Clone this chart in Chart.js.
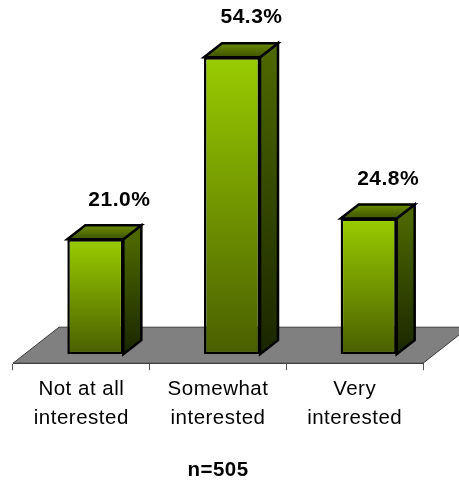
<!DOCTYPE html>
<html><head><meta charset="utf-8">
<style>html,body{margin:0;padding:0;background:#fff}#w{width:459px;height:481px;position:relative}</style>
<script src="https://cdn.jsdelivr.net/npm/chart.js@4"></script>
</head><body><div id="w"><canvas id="c"></canvas></div>
<script>
const categories = [["Not at all","interested"],["Somewhat","interested"],["Very","interested"]];
const percentValues = [21.0, 54.3, 24.8];
const valueLabels = ["21.0%","54.3%","24.8%"];
const sampleNote = "n=505";
const FONT = "'Liberation Sans', Arial, sans-serif";
const SHIFT = {x:14, y:-9}, DEPTH = {x:18, y:-14}, FLOOR = {x:46, y:-36};
const LABEL_DX = [38, 33.5, 33.5];

function grad(ctx, y0, y1, c0, c1){
  const g = ctx.createLinearGradient(0,y0,0,y1);
  g.addColorStop(0,c0); g.addColorStop(1,c1); return g;
}
const box3d = {
  id:'box3d',
  beforeDraw(chart){ chart.ctx.letterSpacing='0.5px'; },
  beforeDatasetsDraw(chart){
    const {ctx, chartArea:a} = chart;
    ctx.save();
    ctx.beginPath();
    ctx.moveTo(a.left,a.bottom);
    ctx.lineTo(a.right,a.bottom);
    ctx.lineTo(a.right+FLOOR.x,a.bottom+FLOOR.y);
    ctx.lineTo(a.left+FLOOR.x,a.bottom+FLOOR.y);
    ctx.closePath();
    ctx.fillStyle='#808080'; ctx.fill();
    ctx.strokeStyle='#3a3a3a'; ctx.lineWidth=1; ctx.stroke();
    ctx.restore();
    ctx.save();
    ctx.translate(SHIFT.x,SHIFT.y);
    ctx.lineWidth=2.5; ctx.strokeStyle='#000'; ctx.lineJoin='miter';
    chart.getDatasetMeta(0).data.forEach(b=>{
      const w=b.width/2, l=b.x-w, r=b.x+w, t=b.y, bt=b.base;
      ctx.beginPath();
      ctx.moveTo(r,t); ctx.lineTo(r+DEPTH.x,t+DEPTH.y); ctx.lineTo(r+DEPTH.x,bt+DEPTH.y); ctx.lineTo(r,bt); ctx.closePath();
      ctx.fillStyle=grad(ctx,t,bt,'#4d6600','#1a2600'); ctx.fill(); ctx.stroke();
      ctx.beginPath();
      ctx.moveTo(l,t); ctx.lineTo(l+DEPTH.x,t+DEPTH.y); ctx.lineTo(r+DEPTH.x,t+DEPTH.y); ctx.lineTo(r,t); ctx.closePath();
      ctx.fillStyle=grad(ctx,t+DEPTH.y,t,'#6b8c00','#3f5200'); ctx.fill(); ctx.stroke();
    });
  },
  afterDatasetsDraw(chart){
    const {ctx} = chart;
    ctx.restore();
    ctx.save();
    ctx.font="bold 21px "+FONT; ctx.fillStyle='#000';
    ctx.textAlign='center'; ctx.textBaseline='middle';
    chart.getDatasetMeta(0).data.forEach((b,i)=>{
      ctx.fillText(valueLabels[i], b.x+LABEL_DX[i], b.y-48.5);
    });
    ctx.restore();
  }
};
new Chart(document.getElementById('c'),{
  type:'bar',
  data:{labels:categories,datasets:[{
    data:percentValues,
    backgroundColor(c){
      const chart=c.chart;
      if(!chart.chartArea||c.parsed==null) return '#99cc00';
      const y=chart.scales.y;
      return grad(chart.ctx,y.getPixelForValue(c.raw),y.getPixelForValue(0),'#99cc00','#4a5f00');
    },
    borderColor:'#000',borderWidth:2.5,borderSkipped:false,
    barPercentage:0.41,categoryPercentage:1
  }]},
  options:{
    responsive:true,maintainAspectRatio:false,animation:false,
    layout:{padding:{left:13,right:36,top:35,bottom:0}},
    plugins:{legend:{display:false},tooltip:{enabled:false}},
    scales:{
      y:{display:false,min:0,max:60},
      x:{
        grid:{offset:true,drawOnChartArea:false,drawTicks:true,tickLength:7,color:'#555',lineWidth:1},
        border:{display:true,color:'#3a3a3a',width:1},
        ticks:{color:'#000',font:{family:FONT,size:20.5,lineHeight:1.41},maxRotation:0,autoSkip:false,padding:5},
        title:{display:true,text:sampleNote,color:'#000',font:{family:FONT,size:20.5,weight:'bold',lineHeight:1},padding:{top:22.5,bottom:0}}
      }
    }
  },
  plugins:[box3d]
});
</script></body></html>
